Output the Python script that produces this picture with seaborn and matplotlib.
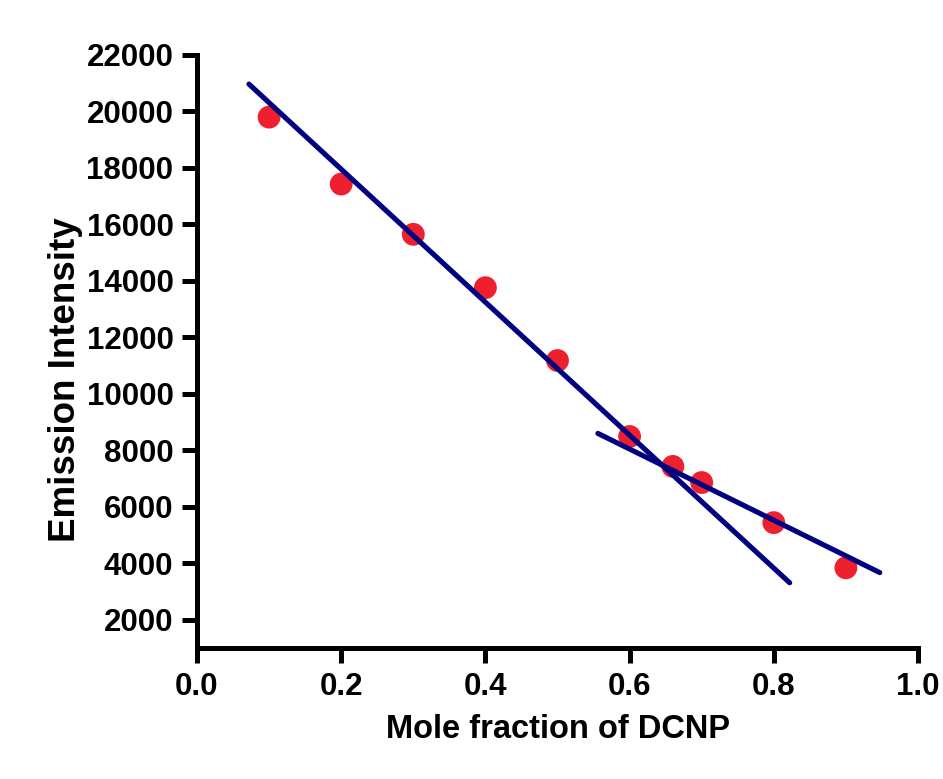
import matplotlib
matplotlib.use("Agg")
import matplotlib.pyplot as plt
import seaborn as sns
import pandas as pd

# Data
mole_fraction = [0.1, 0.2, 0.3, 0.4, 0.5, 0.6, 0.66, 0.7, 0.8, 0.9]
intensity = [19800, 17430, 15650, 13760, 11180, 8490, 7430, 6860, 5440, 3840]

fit1_x = [0.072, 0.822]
fit1_y = [20970, 3310]
fit2_x = [0.556, 0.947]
fit2_y = [8600, 3670]

x_ticks = [0.0, 0.2, 0.4, 0.6, 0.8, 1.0]
y_ticks = [2000, 4000, 6000, 8000, 10000, 12000, 14000, 16000, 18000, 20000, 22000]

sns.set_theme(style="ticks")
plt.rcParams['font.family'] = ['Liberation Sans', 'DejaVu Sans']
plt.rcParams['text.color'] = 'black'
plt.rcParams['axes.labelcolor'] = 'black'
plt.rcParams['xtick.color'] = 'black'
plt.rcParams['ytick.color'] = 'black'

fig = plt.figure(figsize=(9.43, 7.79), dpi=100)
ax = fig.add_axes([197/943, 1-648/779, (918-197)/943, (648-55)/779])

pts = pd.DataFrame({"x": mole_fraction, "y": intensity})
l1 = pd.DataFrame({"x": fit1_x, "y": fit1_y})
l2 = pd.DataFrame({"x": fit2_x, "y": fit2_y})

sns.scatterplot(data=pts, x="x", y="y", ax=ax, s=270, color="#EE2030",
                edgecolor="none", zorder=2, clip_on=False)
for d in (l1, l2):
    sns.lineplot(data=d, x="x", y="y", ax=ax, color="#000080", linewidth=3.7,
                 solid_capstyle="round", zorder=3, clip_on=False)

ax.set_xlim(0, 1.0)
ax.set_ylim(1000, 22000)
ax.set_xticks(x_ticks)
ax.set_xticklabels([f"{v:.1f}" for v in x_ticks])
ax.set_yticks(y_ticks)
ax.set_yticklabels([str(v) for v in y_ticks])

for side in ("top", "right"):
    ax.spines[side].set_visible(False)
for side in ("left", "bottom"):
    ax.spines[side].set_linewidth(3.6)
    ax.spines[side].set_color("black")
    ax.spines[side].set_capstyle("projecting")

ax.tick_params(axis="both", length=10.5, width=3.6, color="black",
               labelcolor="black", labelsize=22.5, pad=6.5)
for lab in ax.get_xticklabels() + ax.get_yticklabels():
    lab.set_fontweight("bold")

ax.set_xlabel("Mole fraction of DCNP", fontsize=23.5, fontweight="bold",
              color="black", labelpad=9)
ax.set_ylabel("Emission Intensity", fontsize=26.5, fontweight="bold",
              color="black")
ax.yaxis.set_label_coords(-0.158, 0.452)

fig.savefig("out.png", dpi=100, facecolor="white")
